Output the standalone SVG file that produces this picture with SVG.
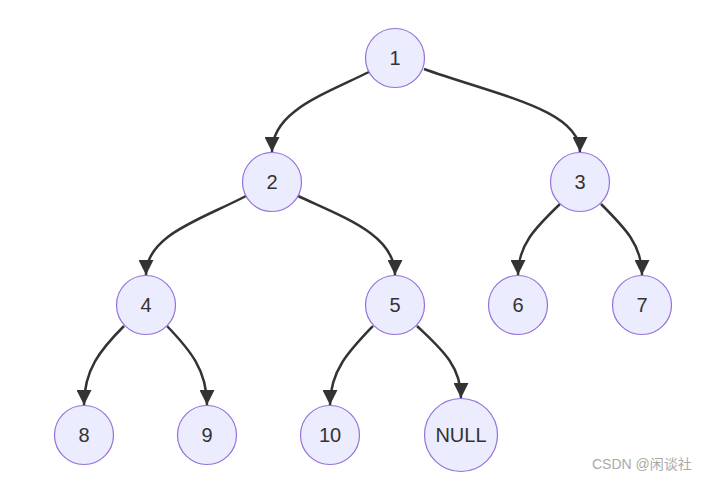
<svg xmlns="http://www.w3.org/2000/svg" width="706" height="481" viewBox="0 0 706 481">
<style>
.node circle{fill:#ECECFF;stroke:#9370DB;stroke-width:1.2}
.node text{font-family:"Liberation Sans",Arial,sans-serif;font-size:20px;fill:#333;text-anchor:middle;dominant-baseline:central}
.edge{fill:none;stroke:#333;stroke-width:2.5}
.wm{font-family:"Liberation Sans","Noto Sans CJK SC",sans-serif;font-size:14px;fill:#aaa}
</style>
<defs>
<marker id="arr" markerUnits="userSpaceOnUse" markerWidth="15" markerHeight="15" viewBox="0 0 10 10" refX="10" refY="5" orient="auto">
<path d="M0,0 L10,5 L0,10 z" fill="#333"/>
</marker>
</defs>
<rect width="706" height="481" fill="#fff"/>
<g id="edges">
<path class="edge" marker-end="url(#arr)" d="M369,72 C320,96 272,112 272,152"/>
<path class="edge" marker-end="url(#arr)" d="M424,69 C500,96 580,110 580,152"/>
<path class="edge" marker-end="url(#arr)" d="M246,196 C200,220 146,235 146,275"/>
<path class="edge" marker-end="url(#arr)" d="M298,196 C345,218 395,235 395,275"/>
<path class="edge" marker-end="url(#arr)" d="M560,204 C535,228 518,245 518,275"/>
<path class="edge" marker-end="url(#arr)" d="M601,204 C625,228 642,245 642,275"/>
<path class="edge" marker-end="url(#arr)" d="M124,326 C100,350 84,370 84,405"/>
<path class="edge" marker-end="url(#arr)" d="M167,326 C190,350 207,370 207,405"/>
<path class="edge" marker-end="url(#arr)" d="M373,326 C350,350 330,370 330,405"/>
<path class="edge" marker-end="url(#arr)" d="M417,326 C440,348 461,365 461,398"/>
</g>
<g id="n1" class="node"><circle cx="395" cy="58" r="29.5"/><text x="395" y="58">1</text></g>
<g id="n2" class="node"><circle cx="272" cy="182" r="29.5"/><text x="272" y="182">2</text></g>
<g id="n3" class="node"><circle cx="580" cy="182" r="29.5"/><text x="580" y="182">3</text></g>
<g id="n4" class="node"><circle cx="146" cy="305" r="29.5"/><text x="146" y="305">4</text></g>
<g id="n5" class="node"><circle cx="395" cy="305" r="29.5"/><text x="395" y="305">5</text></g>
<g id="n6" class="node"><circle cx="518" cy="305" r="29.5"/><text x="518" y="305">6</text></g>
<g id="n7" class="node"><circle cx="642" cy="305" r="29.5"/><text x="642" y="305">7</text></g>
<g id="n8" class="node"><circle cx="84" cy="435" r="29.5"/><text x="84" y="435">8</text></g>
<g id="n9" class="node"><circle cx="207" cy="435" r="29.5"/><text x="207" y="435">9</text></g>
<g id="n10" class="node"><circle cx="330" cy="435" r="29.5"/><text x="330" y="435">10</text></g>
<g id="nNULL" class="node"><circle cx="461" cy="435" r="36.5"/><text x="461" y="435">NULL</text></g>
<text class="wm" x="592" y="469">CSDN @闲谈社</text>
</svg>
